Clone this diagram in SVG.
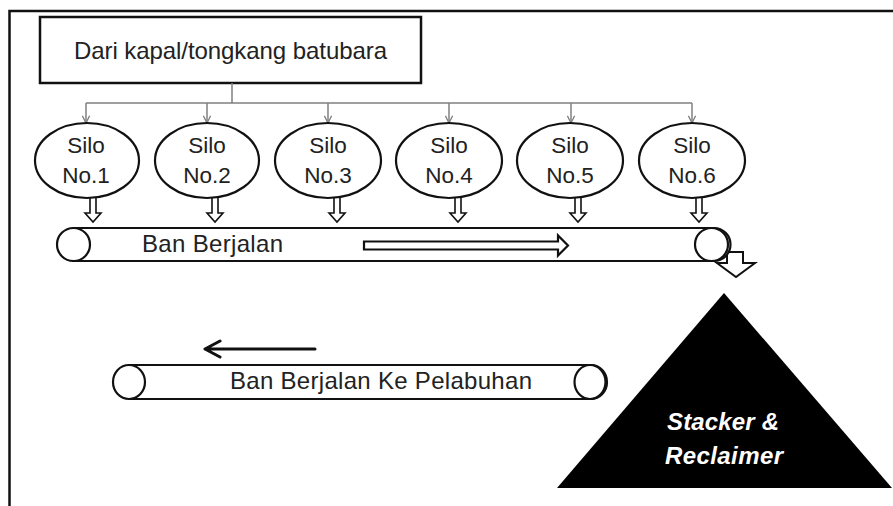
<svg xmlns="http://www.w3.org/2000/svg" width="893" height="506" viewBox="0 0 893 506">
<style>
.t{font-family:"Liberation Sans",Arial,sans-serif;font-size:24px;fill:#222}
.s{font-family:"Liberation Sans",Arial,sans-serif;font-size:22.5px;fill:#222;text-anchor:middle}
.st{font-family:"Liberation Sans",Arial,sans-serif;font-size:24px;font-weight:bold;font-style:italic;fill:#fff;text-anchor:middle}
.silo{fill:#fff;stroke:#111;stroke-width:2.2}
.conn{fill:none;stroke:#808080;stroke-width:1.5}
.blk{fill:#fff;stroke:#111;stroke-width:1.6}
.belt{fill:#fff;stroke:#111;stroke-width:2.2}
</style>
<defs>
<marker id="ah" viewBox="0 0 10 10" refX="9" refY="5" markerWidth="9" markerHeight="9" markerUnits="userSpaceOnUse" orient="auto">
<path d="M1 1 L9 5 L1 9" fill="none" stroke="#808080" stroke-width="1.5"/>
</marker>
<path id="down" d="M-3 0 H3 V16 H8 L0 25 L-8 16 H-3 Z"/>
</defs>
<rect width="893" height="506" fill="#fff"/>
<path d="M9.5 506 V11 H893" fill="none" stroke="#111" stroke-width="2.5"/>

<g id="source">
<rect x="40" y="17" width="381" height="66" fill="#fff" stroke="#111" stroke-width="2.5"/>
<text class="t" x="74" y="59" textLength="313" lengthAdjust="spacing">Dari kapal/tongkang batubara</text>
</g>

<g id="connectors">
<path class="conn" d="M232 83 V103 M86 103 H692"/>
<path class="conn" d="M86 103 V123" marker-end="url(#ah)"/>
<path class="conn" d="M207 103 V123" marker-end="url(#ah)"/>
<path class="conn" d="M328 103 V123" marker-end="url(#ah)"/>
<path class="conn" d="M449 103 V123" marker-end="url(#ah)"/>
<path class="conn" d="M571 103 V123" marker-end="url(#ah)"/>
<path class="conn" d="M692 103 V123" marker-end="url(#ah)"/>
<use href="#down" class="blk" x="93" y="197"/>
<use href="#down" class="blk" x="215" y="197"/>
<use href="#down" class="blk" x="337" y="197"/>
<use href="#down" class="blk" x="458" y="197"/>
<use href="#down" class="blk" x="578" y="197"/>
<use href="#down" class="blk" x="699" y="197"/>
<path d="M727 252 H743 V263 H755 L736 277 L717 263 H727 Z" fill="#fff" stroke="#111" stroke-width="2"/>
<path d="M315 349 H205 M220 341 L205 349 L220 357" fill="none" stroke="#111" stroke-width="3" stroke-linecap="round" stroke-linejoin="round"/>
</g>

<g id="silo1"><ellipse class="silo" cx="87" cy="160.5" rx="52" ry="37.5"/><text class="s" x="86" y="153">Silo</text><text class="s" x="86" y="183">No.1</text></g>
<g id="silo2"><ellipse class="silo" cx="207" cy="160.5" rx="52" ry="37.5"/><text class="s" x="207" y="153">Silo</text><text class="s" x="207" y="183">No.2</text></g>
<g id="silo3"><ellipse class="silo" cx="328" cy="160.5" rx="53" ry="37.5"/><text class="s" x="328" y="153">Silo</text><text class="s" x="328" y="183">No.3</text></g>
<g id="silo4"><ellipse class="silo" cx="449" cy="160.5" rx="53" ry="37.5"/><text class="s" x="449" y="153">Silo</text><text class="s" x="449" y="183">No.4</text></g>
<g id="silo5"><ellipse class="silo" cx="570" cy="160.5" rx="53" ry="37.5"/><text class="s" x="570" y="153">Silo</text><text class="s" x="570" y="183">No.5</text></g>
<g id="silo6"><ellipse class="silo" cx="692" cy="160.5" rx="53" ry="37.5"/><text class="s" x="692" y="153">Silo</text><text class="s" x="692" y="183">No.6</text></g>

<g id="conveyor1">
<path class="belt" d="M73.5 228 H714 A16.5 16.5 0 0 1 714 261 H73.5 Z"/>
<circle class="belt" cx="73.5" cy="244.5" r="16.5"/>
<circle class="belt" cx="711.5" cy="244.5" r="16.5"/>
<text class="t" x="142" y="252" textLength="141" lengthAdjust="spacing">Ban Berjalan</text>
<path d="M364 241.5 H558 V235.5 L568 245.5 L558 255.5 V249.5 H364 Z" fill="#fff" stroke="#111" stroke-width="2.2"/>
</g>

<g id="conveyor2">
<path class="belt" d="M129 365 H591 A16 17 0 0 1 591 399 H129 Z"/>
<ellipse class="belt" cx="129" cy="382" rx="16" ry="17"/>
<ellipse class="belt" cx="590" cy="382" rx="15.5" ry="17"/>
<text class="t" x="230" y="389" textLength="302" lengthAdjust="spacing">Ban Berjalan Ke Pelabuhan</text>
</g>

<g id="stacker">
<polygon points="724,293 892,488 557,488" fill="#000"/>
<text class="st" x="723" y="430" textLength="112" lengthAdjust="spacing">Stacker &amp;</text>
<text class="st" x="724" y="464" textLength="118" lengthAdjust="spacing">Reclaimer</text>
</g>
</svg>
